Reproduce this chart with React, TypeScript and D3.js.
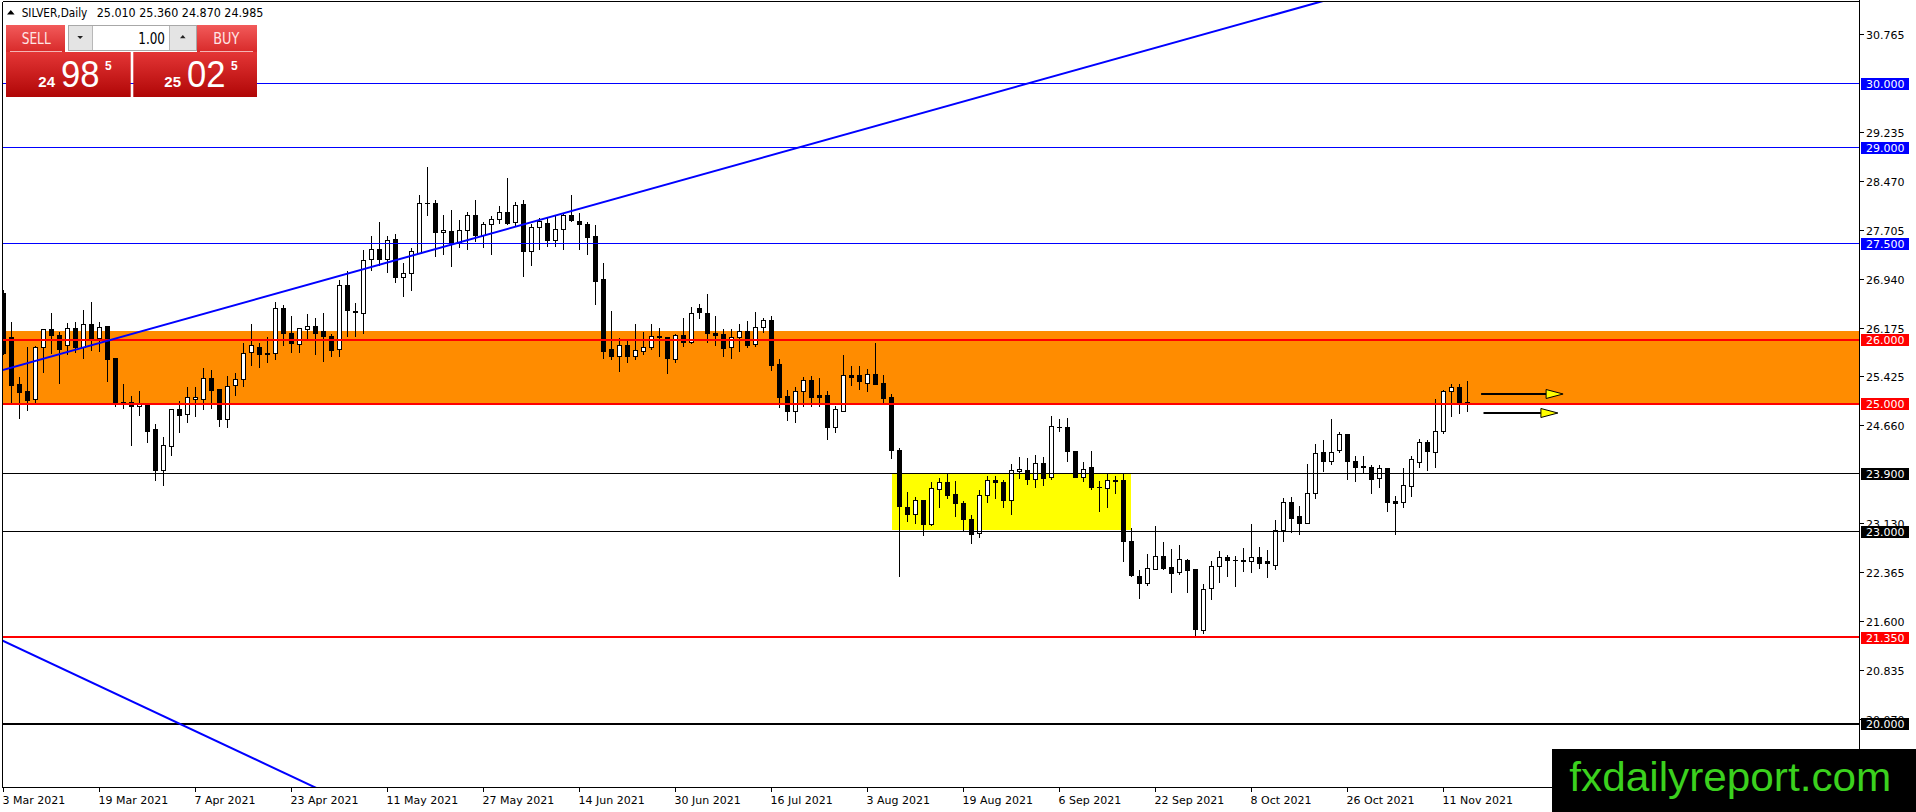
import React, { useEffect, useRef } from 'react';
import * as d3 from 'd3';

// daily OHLC, one entry per bar from 3 Mar 2021
const opens = [
  26.72, 26.03, 25.29, 25.19, 25.06, 25.88, 26.16, 26.07, 25.90, 26.17,
  25.88, 26.24, 26.02, 26.21, 25.70, 25.02, 25.01, 24.96, 24.98, 24.59,
  23.95, 24.33, 24.90, 24.83, 25.07, 25.06, 25.39, 25.22, 24.75, 25.28,
  25.37, 25.79, 25.88, 25.78, 25.78, 26.48, 26.09, 25.92, 26.16, 26.21,
  26.12, 26.04, 25.84, 26.84, 26.44, 26.41, 27.25, 27.40, 27.25, 27.56,
  26.97, 27.03, 27.35, 28.13, 28.13, 27.67, 27.69, 27.50, 27.70, 27.94,
  27.63, 27.80, 27.88, 27.99, 27.83, 28.11, 27.37, 27.75, 27.81, 27.55,
  27.72, 27.93, 27.85, 27.80, 27.61, 26.93, 25.85, 25.73, 25.90, 25.73,
  25.82, 25.88, 26.05, 26.03, 25.69, 26.06, 25.95, 26.48, 26.41, 26.09,
  26.08, 25.87, 26.03, 26.13, 25.92, 26.18, 26.29, 25.61, 25.11, 24.87,
  25.19, 25.36, 25.13, 25.13, 24.62, 24.87, 25.44, 25.43, 25.32, 25.45,
  25.31, 25.10, 24.26, 23.38, 23.27, 23.49, 23.11, 23.66, 23.77, 23.58,
  23.44, 23.18, 22.97, 23.57, 23.79, 23.77, 23.48, 23.93, 23.96, 23.81,
  24.06, 23.84, 24.63, 24.63, 24.25, 23.85, 24.00, 23.69, 23.67, 23.79,
  23.79, 22.85, 22.30, 22.19, 22.41, 22.61, 22.44, 22.36, 22.55, 22.40,
  21.45, 22.11, 22.45, 22.60, 22.55, 22.55, 22.53, 22.59, 22.53, 22.47,
  23.01, 23.45, 23.24, 23.12, 23.59, 24.23, 24.09, 24.26, 24.51, 24.10,
  24.01, 24.00, 23.83, 23.98, 23.47, 23.45, 23.71, 24.08, 24.39, 24.23,
  24.57, 25.18, 25.25, 25.01,
];
const highs = [
  26.78, 26.28, 25.42, 25.89, 25.90, 26.17, 26.42, 26.13, 26.26, 26.28,
  26.47, 26.60, 26.28, 26.21, 25.72, 25.31, 25.13, 25.21, 25.01, 24.69,
  24.48, 24.92, 25.04, 25.26, 25.26, 25.56, 25.53, 25.23, 25.44, 25.48,
  25.95, 26.25, 25.96, 26.05, 26.60, 26.55, 26.37, 26.17, 26.41, 26.34,
  26.42, 26.10, 26.93, 27.08, 26.58, 27.41, 27.63, 27.84, 27.63, 27.65,
  27.21, 27.44, 28.26, 28.71, 28.19, 27.96, 28.03, 27.87, 28.00, 28.19,
  27.85, 27.94, 28.10, 28.53, 28.15, 28.19, 27.81, 27.91, 27.92, 27.94,
  27.97, 28.26, 27.98, 27.84, 27.79, 27.21, 26.46, 26.03, 26.02, 26.25,
  26.13, 26.25, 26.18, 26.04, 26.09, 26.34, 26.51, 26.56, 26.72, 26.37,
  26.17, 26.17, 26.25, 26.30, 26.43, 26.34, 26.38, 25.70, 25.22, 25.26,
  25.42, 25.43, 25.40, 25.21, 24.97, 25.77, 25.59, 25.59, 25.55, 25.96,
  25.45, 25.16, 24.32, 23.62, 23.54, 23.49, 23.78, 23.84, 23.91, 23.79,
  23.49, 23.27, 23.65, 23.88, 23.88, 23.82, 24.06, 24.17, 24.15, 24.20,
  24.17, 24.82, 24.77, 24.78, 24.26, 24.09, 24.26, 23.80, 23.91, 23.87,
  23.91, 23.07, 22.40, 22.66, 23.10, 22.84, 22.73, 22.79, 22.58, 22.41,
  22.18, 22.54, 22.71, 22.64, 22.63, 22.75, 23.13, 22.76, 22.72, 23.18,
  23.53, 23.54, 23.40, 24.06, 24.37, 24.43, 24.77, 24.57, 24.52, 24.19,
  24.19, 24.05, 24.04, 24.00, 23.57, 24.00, 24.19, 24.45, 24.43, 25.08,
  25.22, 25.32, 25.32, 25.36,
];
const lows = [
  25.76, 25.01, 24.77, 24.89, 25.01, 25.49, 25.78, 25.32, 25.76, 25.80,
  25.70, 25.83, 25.81, 25.35, 24.95, 24.92, 24.34, 24.81, 24.39, 23.79,
  23.72, 24.18, 24.54, 24.71, 24.79, 24.91, 24.92, 24.64, 24.63, 25.13,
  25.26, 25.60, 25.57, 25.64, 25.69, 25.91, 25.79, 25.79, 25.99, 25.77,
  25.65, 25.74, 25.74, 26.04, 26.04, 26.10, 27.08, 27.16, 27.04, 26.89,
  26.67, 26.76, 27.35, 27.94, 27.30, 27.33, 27.14, 27.44, 27.40, 27.53,
  27.44, 27.33, 27.82, 27.79, 27.78, 26.98, 27.16, 27.41, 27.45, 27.46,
  27.40, 27.84, 27.41, 27.33, 26.54, 25.71, 25.68, 25.50, 25.64, 25.69,
  25.77, 25.85, 25.73, 25.47, 25.64, 25.89, 25.94, 26.33, 25.95, 25.91,
  25.74, 25.70, 25.81, 25.87, 25.89, 26.11, 25.52, 24.93, 24.74, 24.70,
  24.95, 24.95, 24.95, 24.44, 24.55, 24.87, 25.28, 25.22, 25.18, 25.29,
  25.00, 24.14, 22.29, 23.16, 23.13, 22.93, 23.10, 23.37, 23.52, 23.23,
  23.02, 22.81, 22.90, 23.46, 23.52, 23.37, 23.27, 23.83, 23.74, 23.68,
  23.72, 23.81, 24.57, 24.09, 23.84, 23.78, 23.65, 23.31, 23.37, 23.59,
  22.53, 22.29, 21.95, 22.16, 22.40, 22.40, 22.05, 22.33, 22.05, 21.35,
  21.41, 21.93, 22.21, 22.29, 22.14, 22.37, 22.36, 22.42, 22.28, 22.41,
  22.84, 22.98, 22.95, 23.12, 23.52, 23.93, 24.04, 24.23, 23.81, 23.78,
  23.90, 23.59, 23.69, 23.32, 22.96, 23.38, 23.54, 24.00, 23.95, 24.00,
  24.53, 24.79, 24.84, 24.87,
];
const closes = [
  25.78, 25.28, 25.17, 25.05, 25.88, 26.16, 26.06, 25.85, 26.17, 25.88,
  26.24, 26.02, 26.19, 25.69, 25.01, 25.00, 24.96, 24.98, 24.57, 23.95,
  24.35, 24.90, 24.81, 25.09, 25.10, 25.39, 25.20, 24.75, 25.26, 25.37,
  25.78, 25.90, 25.76, 25.77, 26.48, 26.09, 25.94, 26.17, 26.21, 26.10,
  26.04, 25.83, 26.84, 26.45, 26.42, 27.24, 27.40, 27.25, 27.55, 26.97,
  27.03, 27.37, 28.12, 28.12, 27.67, 27.71, 27.50, 27.71, 27.94, 27.62,
  27.79, 27.87, 27.98, 27.82, 28.09, 27.37, 27.75, 27.84, 27.54, 27.72,
  27.94, 27.86, 27.79, 27.59, 26.91, 25.82, 25.73, 25.90, 25.73, 25.83,
  25.88, 26.05, 26.03, 25.70, 26.06, 25.95, 26.41, 26.42, 26.09, 26.07,
  25.86, 26.03, 26.12, 25.91, 26.18, 26.29, 25.60, 25.10, 24.87, 25.19,
  25.36, 25.10, 25.10, 24.62, 24.90, 25.44, 25.40, 25.34, 25.45, 25.30,
  25.08, 24.26, 23.39, 23.27, 23.49, 23.11, 23.67, 23.77, 23.57, 23.44,
  23.18, 22.95, 23.56, 23.79, 23.77, 23.48, 23.96, 23.97, 23.81, 24.06,
  23.83, 24.64, 24.62, 24.25, 23.85, 23.97, 23.68, 23.68, 23.79, 23.78,
  22.84, 22.31, 22.19, 22.42, 22.61, 22.42, 22.34, 22.56, 22.39, 21.47,
  22.10, 22.45, 22.60, 22.55, 22.54, 22.53, 22.60, 22.50, 22.50, 23.01,
  23.45, 23.21, 23.12, 23.59, 24.22, 24.09, 24.23, 24.52, 24.09, 24.00,
  24.00, 23.81, 23.98, 23.45, 23.44, 23.72, 24.12, 24.39, 24.25, 24.57,
  25.18, 25.25, 25.01, 24.985,
];

// one label every 12 bars
const dateLabels = [
  '3 Mar 2021', '19 Mar 2021', '7 Apr 2021', '23 Apr 2021', '11 May 2021', '27 May 2021',
  '14 Jun 2021', '30 Jun 2021', '16 Jul 2021', '3 Aug 2021', '19 Aug 2021', '6 Sep 2021',
  '22 Sep 2021', '8 Oct 2021', '26 Oct 2021', '11 Nov 2021',
];
const priceTicks = [
  '30.765', '29.235', '28.470', '27.705', '26.940', '26.175', '25.425',
  '24.660', '23.130', '22.365', '21.600', '20.835', '20.070',
];

// horizontal levels and their kind
const levelPrices = [30, 29, 27.5, 26, 25, 23.9, 23, 21.35, 20];
const levelKinds = ['blue', 'blue', 'blue', 'red', 'red', 'black', 'black', 'red', 'blackBold'];

const orangeZone = [24.98, 26.13];
const yellowBars = [111, 141];
const yellowZone = [23.03, 23.9];

const trendUp = [[0, 25.527], [160, 31.116]];
const trendDown = [[0, 21.288], [40, 18.94]];

const arrowFrom = [184.7, 185.0];
const arrowTo = [194.95, 194.3];
const arrowPrice = [25.148, 24.856];

const headerValues = ['25.010', '25.360', '24.870', '24.985'];
const bidQuote = ['24', '98', '5'];
const askQuote = ['25', '02', '5'];

const W = 1916;
const H = 812;
const L = 2.5, T = 1.5, R = 1859.5, B = 787.5;
const axisFont = '"DejaVu Sans", Tahoma, sans-serif';
const armFont = '"Liberation Sans", Arial, sans-serif';

const kindColor: Record<string, string> = {
  blue: '#0000ff', red: '#ff0000', black: '#000000', blackBold: '#000000',
};
const kindWidth: Record<string, number> = { blue: 1, red: 2, black: 1, blackBold: 2 };

const App: React.FC = () => {
  const svgRef = useRef<SVGSVGElement | null>(null);

  useEffect(() => {
    const svg = d3.select(svgRef.current);
    svg.selectAll('*').remove();

    const x = d3.scaleLinear().domain([0, 231]).range([3.5, 3.5 + 231 * 8]);
    const y = d3.scaleLinear().domain([30, 20]).range([83.5, 723.5]);
    const py = (v: number) => Math.round(y(v) - 0.5) + 0.5;

    svg.append('rect').attr('width', W).attr('height', H).attr('fill', '#fff');

    const defs = svg.append('defs');
    defs.append('clipPath').attr('id', 'plot')
      .append('rect').attr('x', L).attr('y', T).attr('width', R - L).attr('height', B - T);
    const g1 = defs.append('linearGradient').attr('id', 'btn').attr('x1', 0).attr('y1', 0).attr('x2', 0).attr('y2', 1);
    g1.append('stop').attr('offset', '0%').attr('stop-color', '#f25a5a');
    g1.append('stop').attr('offset', '100%').attr('stop-color', '#d82a2a');
    const g2 = defs.append('linearGradient').attr('id', 'big').attr('x1', 0).attr('y1', 0).attr('x2', 0).attr('y2', 1);
    g2.append('stop').attr('offset', '0%').attr('stop-color', '#e43636');
    g2.append('stop').attr('offset', '100%').attr('stop-color', '#b00606');

    const plot = svg.append('g').attr('clip-path', 'url(#plot)');

    // background zones
    plot.append('rect')
      .attr('x', L).attr('width', R - L)
      .attr('y', Math.round(y(orangeZone[1]))).attr('height', Math.round(y(orangeZone[0])) - Math.round(y(orangeZone[1])))
      .attr('fill', '#ff8c00');
    plot.append('rect')
      .attr('x', Math.round(x(yellowBars[0]))).attr('width', Math.round(x(yellowBars[1])) - Math.round(x(yellowBars[0])))
      .attr('y', Math.round(y(yellowZone[1]))).attr('height', Math.round(y(yellowZone[0])) - Math.round(y(yellowZone[1])))
      .attr('fill', '#ffff00');

    // candles
    const bars = opens.map((o, i) => ({ i, o, h: highs[i], l: lows[i], c: closes[i] }));
    const cg = plot.append('g').attr('shape-rendering', 'crispEdges');
    bars.forEach((d) => {
      const cx = x(d.i);
      const top = py(Math.max(d.o, d.c));
      const bot = py(Math.min(d.o, d.c));
      const up = d.c > d.o;
      cg.append('line').attr('x1', cx).attr('x2', cx).attr('y1', py(d.h)).attr('y2', py(d.l))
        .attr('stroke', '#000').attr('stroke-width', 1);
      if (bot - top < 1) {
        cg.append('line').attr('x1', cx - 2.5).attr('x2', cx + 2.5).attr('y1', top).attr('y2', top)
          .attr('stroke', '#000').attr('stroke-width', 1);
      } else {
        cg.append('rect').attr('x', cx - 2).attr('width', 4).attr('y', top).attr('height', bot - top)
          .attr('fill', up ? '#fff' : '#000').attr('stroke', '#000').attr('stroke-width', 1);
      }
    });

    // horizontal levels
    const lg = plot.append('g').attr('shape-rendering', 'crispEdges');
    levelPrices.forEach((p, k) => {
      const w = kindWidth[levelKinds[k]];
      const yy = w === 1 ? py(p) : Math.round(y(p));
      lg.append('line').attr('x1', L).attr('x2', R).attr('y1', yy).attr('y2', yy)
        .attr('stroke', kindColor[levelKinds[k]]).attr('stroke-width', w);
    });

    // trend lines
    const line = d3.line<number[]>().x((d) => x(d[0])).y((d) => y(d[1]));
    const extend = (pts: number[][]) => {
      const [a, b] = pts;
      const s = (b[1] - a[1]) / (b[0] - a[0]);
      return [[-5, a[1] - s * (5 + a[0])], [240, a[1] + s * (240 - a[0])]];
    };
    [trendUp, trendDown].forEach((t) => {
      plot.append('path').attr('d', line(extend(t))).attr('fill', 'none')
        .attr('stroke', '#0000ff').attr('stroke-width', 2);
    });

    // arrows
    arrowPrice.forEach((p, k) => {
      const yy = Math.round(y(p));
      const x0 = x(arrowFrom[k]);
      const x1 = x(arrowTo[k]);
      plot.append('line').attr('x1', x0).attr('x2', x1 - 17).attr('y1', yy).attr('y2', yy)
        .attr('stroke', '#000').attr('stroke-width', 2);
      plot.append('path')
        .attr('d', `M${x1 - 17},${yy - 4.5} L${x1},${yy} L${x1 - 17},${yy + 4.5} Z`)
        .attr('fill', '#ffff00').attr('stroke', '#000').attr('stroke-width', 1);
    });

    // frame
    const fr = svg.append('g').attr('shape-rendering', 'crispEdges').attr('stroke', '#000').attr('stroke-width', 1);
    fr.append('line').attr('x1', L).attr('x2', R).attr('y1', T).attr('y2', T);
    fr.append('line').attr('x1', L).attr('x2', L).attr('y1', T).attr('y2', B);
    fr.append('line').attr('x1', L).attr('x2', R).attr('y1', B).attr('y2', B);
    fr.append('line').attr('x1', R).attr('x2', R).attr('y1', 0).attr('y2', B);

    // price axis
    const ax = svg.append('g').attr('font-family', axisFont).attr('font-size', 11);
    priceTicks.forEach((t) => {
      const yy = py(+t);
      ax.append('line').attr('x1', R).attr('x2', R + 4).attr('y1', yy).attr('y2', yy)
        .attr('stroke', '#000').attr('shape-rendering', 'crispEdges');
      ax.append('text').attr('x', 1866).attr('y', yy + 4).attr('fill', '#000').text(t);
    });
    levelPrices.forEach((p, k) => {
      const yy = py(p);
      ax.append('rect').attr('x', 1861).attr('y', yy - 5.5).attr('width', 48).attr('height', 12)
        .attr('fill', kindColor[levelKinds[k]]);
      ax.append('text').attr('x', 1866).attr('y', yy + 4).attr('fill', '#fff').text(p.toFixed(3));
    });

    // time axis
    dateLabels.forEach((t, k) => {
      const xx = x(k * 12);
      ax.append('line').attr('x1', xx).attr('x2', xx).attr('y1', B).attr('y2', B + 4.5)
        .attr('stroke', '#000').attr('shape-rendering', 'crispEdges');
      ax.append('text').attr('x', xx - 1).attr('y', 804).attr('fill', '#000').text(t);
    });

    // header
    const hd = svg.append('g').attr('font-family', axisFont).attr('font-size', 12).attr('fill', '#000');
    hd.append('path').attr('d', 'M7,14.5 L10.8,10 L14.6,14.5 Z');
    hd.append('text').attr('x', 21.7).attr('y', 16.5).attr('textLength', 65.6)
      .attr('lengthAdjust', 'spacingAndGlyphs').text('SILVER,Daily');
    hd.append('text').attr('x', 96.7).attr('y', 16.5).attr('textLength', 166.7)
      .attr('lengthAdjust', 'spacingAndGlyphs').text(headerValues.join(' '));

    // one-click trading panel
    const pn = svg.append('g');
    pn.append('rect').attr('x', 6).attr('y', 25).attr('width', 59).attr('height', 27).attr('fill', 'url(#btn)');
    pn.append('rect').attr('x', 197).attr('y', 25).attr('width', 60).attr('height', 27).attr('fill', 'url(#btn)');
    pn.append('rect').attr('x', 6).attr('y', 52).attr('width', 124.7).attr('height', 45).attr('fill', 'url(#big)');
    pn.append('rect').attr('x', 133.3).attr('y', 52).attr('width', 123.7).attr('height', 45).attr('fill', 'url(#big)');
    pn.append('line').attr('x1', 10).attr('x2', 62).attr('y1', 51.5).attr('y2', 51.5).attr('stroke', '#f4b4b4');
    pn.append('line').attr('x1', 200).attr('x2', 253).attr('y1', 51.5).attr('y2', 51.5).attr('stroke', '#f4b4b4');
    pn.append('text').attr('x', 21.7).attr('y', 44).attr('font-family', axisFont).attr('font-size', 15)
      .attr('fill', '#ffe6e6').attr('textLength', 29).attr('lengthAdjust', 'spacingAndGlyphs').text('SELL');
    pn.append('text').attr('x', 213.3).attr('y', 44).attr('font-family', axisFont).attr('font-size', 15)
      .attr('fill', '#ffe6e6').attr('textLength', 26).attr('lengthAdjust', 'spacingAndGlyphs').text('BUY');

    const sp = pn.append('g').attr('shape-rendering', 'crispEdges');
    sp.append('rect').attr('x', 68.5).attr('y', 25.5).attr('width', 128).attr('height', 25)
      .attr('fill', '#fff').attr('stroke', '#a8a8a8');
    sp.append('rect').attr('x', 69).attr('y', 26).attr('width', 23).attr('height', 24).attr('fill', '#e4e4e4');
    sp.append('rect').attr('x', 170).attr('y', 26).attr('width', 26).attr('height', 24).attr('fill', '#e4e4e4');
    sp.append('line').attr('x1', 92.5).attr('x2', 92.5).attr('y1', 26).attr('y2', 50).attr('stroke', '#b8b8b8');
    sp.append('line').attr('x1', 169.5).attr('x2', 169.5).attr('y1', 26).attr('y2', 50).attr('stroke', '#b8b8b8');
    pn.append('path').attr('d', 'M77.3,36 L83,36 L80.15,39 Z').attr('fill', '#222');
    pn.append('path').attr('d', 'M180,38.3 L185.6,38.3 L182.8,35 Z').attr('fill', '#222');
    pn.append('text').attr('x', 165).attr('y', 44).attr('text-anchor', 'end').attr('font-family', axisFont)
      .attr('font-size', 15).attr('fill', '#000').attr('textLength', 26.7).attr('lengthAdjust', 'spacingAndGlyphs')
      .text('1.00');

    const quote = (q: string[], x0: number) => {
      pn.append('text').attr('x', x0).attr('y', 87.3).attr('font-family', armFont).attr('font-weight', 'bold')
        .attr('font-size', 14).attr('fill', '#fff').attr('textLength', 16.7).attr('lengthAdjust', 'spacingAndGlyphs')
        .text(q[0]);
      pn.append('text').attr('x', x0 + 22.7).attr('y', 87.3).attr('font-family', armFont)
        .attr('font-size', 36).attr('fill', '#fff').attr('textLength', 38.5).attr('lengthAdjust', 'spacingAndGlyphs')
        .text(q[1]);
      pn.append('text').attr('x', x0 + 66.7).attr('y', 70).attr('font-family', armFont).attr('font-weight', 'bold')
        .attr('font-size', 12).attr('fill', '#fff').text(q[2]);
    };
    quote(bidQuote, 38.3);
    quote(askQuote, 164.3);

    // watermark
    svg.append('rect').attr('x', 1552).attr('y', 749).attr('width', W - 1552).attr('height', H - 749).attr('fill', '#000');
    svg.append('text').attr('x', 1569.3).attr('y', 791).attr('font-family', armFont).attr('font-size', 40)
      .attr('fill', '#3bd11e').attr('textLength', 322).attr('lengthAdjust', 'spacingAndGlyphs')
      .text('fxdailyreport.com');
  }, []);

  return (
    <>
      <style>{'body{margin:0;overflow:hidden;}'}</style>
      <svg ref={svgRef} width={W} height={H} style={{ display: 'block' }} />
    </>
  );
};

export default App;
